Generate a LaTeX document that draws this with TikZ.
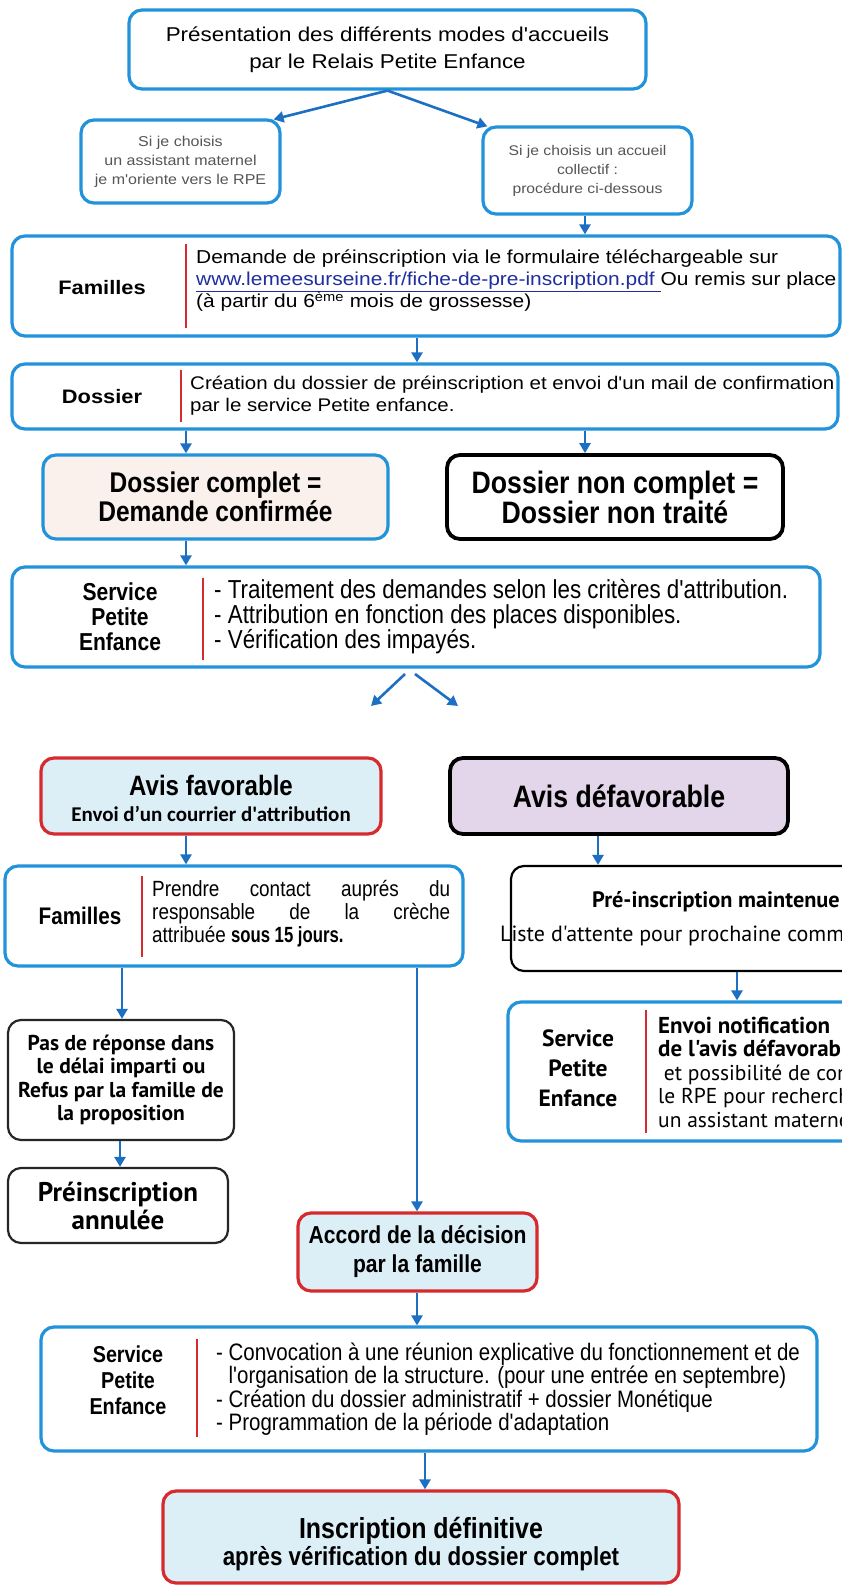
\documentclass[tikz,border=0pt]{standalone}
\usepackage{fontspec}
\setmainfont{Liberation Sans}
\newfontfamily\fwide[FakeStretch=1.12]{Liberation Sans}
\newfontfamily\fnar[FakeStretch=0.86]{Liberation Sans}
\newfontfamily\fnarb[FakeStretch=0.76]{Liberation Sans}
\newfontfamily\fpt{PT Sans}
\newfontfamily\fcal{Carlito}
\usetikzlibrary{arrows.meta}
\definecolor{bluec}{HTML}{2293DB}
\definecolor{arrc}{HTML}{1C6FC2}
\definecolor{redc}{HTML}{D62A2E}
\definecolor{lblue}{HTML}{DCEEF6}
\definecolor{beige}{HTML}{FBF1EC}
\definecolor{lav}{HTML}{E4D6EA}
\definecolor{urlc}{HTML}{1F2E9E}
\definecolor{greyt}{HTML}{555555}
\newcommand\fsz[2]{\fontsize{#1}{#2}\selectfont}
\begin{document}
\begin{tikzpicture}[x=1pt,y=-1pt,
  box/.style={rounded corners=13pt, inner sep=0pt, align=center},
  bbox/.style={box, draw=bluec, line width=3.2pt, fill=white},
  rbox/.style={box, draw=redc, line width=3.2pt, fill=lblue},
  kbox/.style={box, draw=black, line width=3.8pt, fill=white},
  gbox/.style={box, draw=black!85, line width=2.2pt, fill=white},
  arr/.style={draw=arrc, line width=2.6pt, -{Triangle[width=11pt,length=10pt]}},
  redl/.style={draw=redc, line width=2.6pt},
  lab/.style={inner sep=0pt, align=center},
  txt/.style={inner sep=0pt, align=left, anchor=west}]
\useasboundingbox (0,0) rectangle (842,1595);
\fill[white] (0,0) rectangle (842,1595);
\clip (0,0) rectangle (842,1595);

% top
\node[bbox, minimum width=517pt, minimum height=79pt, font=\fwide\fsz{20}{27}] (top) at (387.5,49.5)
  {Présentation des différents modes d'accueils\\par le Relais Petite Enfance};
\node[bbox, minimum width=199pt, minimum height=83pt, text=greyt, font=\fwide\fsz{14.3}{19}] (lsm) at (180.5,161.5)
  {Si je choisis\\un assistant maternel\\je m'oriente vers le RPE};
\node[bbox, minimum width=209pt, minimum height=87pt, text=greyt, font=\fwide\fsz{14}{19}] (rsm) at (587.5,170.5)
  {Si je choisis un accueil\\collectif :\\procédure ci-dessous};

% Familles
\node[bbox, minimum width=828pt, minimum height=100pt] (fam) at (426,286) {};
\node[lab, font=\fwide\bfseries\fsz{19.5}{22}] (faml) at (102,288) {Familles};
\draw[redl] (186,244) -- (186,328);
\node[txt, font=\fwide\fsz{18.7}{22}] (famt) at (196,281)
  {Demande de préinscription via le formulaire téléchargeable sur\\
   \textcolor{urlc}{\underline{www.lemeesurseine.fr/fiche-de-pre-inscription.pdf\ }}Ou remis sur place\\
   (à partir du 6\textsuperscript{ème} mois de grossesse)};

% Dossier
\node[bbox, minimum width=826pt, minimum height=65pt] (dos) at (425,396.5) {};
\node[lab, font=\fwide\bfseries\fsz{19.5}{22}] (dosl) at (102,397) {Dossier};
\draw[redl] (181,370) -- (181,422);
\node[txt, font=\fwide\fsz{18.3}{22}] (dost) at (190,396)
  {Création du dossier de préinscription et envoi d'un mail de confirmation\\par le service Petite enfance.};

% complet / non complet
\node[bbox, fill=beige, minimum width=345pt, minimum height=84pt, font=\fnar\bfseries\fsz{28.5}{29}] (cpl) at (215.5,497)
  {Dossier complet =\\Demande confirmée};
\node[kbox, minimum width=336pt, minimum height=84pt, font=\fnar\bfseries\fsz{31}{29}] (ncp) at (615,497)
  {Dossier non complet =\\Dossier non traité};

% Service 1
\node[bbox, minimum width=808pt, minimum height=100pt] (sv1) at (416,617) {};
\node[lab, font=\fnar\bfseries\fsz{24.5}{25}] (sv1l) at (120,617) {Service\\Petite\\Enfance};
\draw[redl] (203,578) -- (203,660);
\node[txt, font=\fnar\fsz{26}{25}] (sv1t) at (214,617)
  {- Traitement des demandes selon les critères d'attribution.\\
   - Attribution en fonction des places disponibles.\\
   - Vérification des impayés.};

\coordinate (xa1) at (405,674); \coordinate (xb1) at (371,706);
\coordinate (xa2) at (415,674); \coordinate (xb2) at (458,706);
\draw[arr] (xa1) -- (xb1);
\draw[arr] (xa2) -- (xb2);

% Avis
\node[rbox, minimum width=340pt, minimum height=76pt] (fav) at (211,796) {};
\node[lab, font=\fnar\bfseries\fsz{28}{30}] (favt) at (211,785) {Avis favorable};
\node[lab, font=\fcal\bfseries\fsz{21}{24}] (favs) at (211,814) {Envoi d’un courrier d'attribution};
\node[kbox, fill=lav, minimum width=338pt, minimum height=76pt, font=\fnar\bfseries\fsz{31}{30}] (def) at (619,796)
  {Avis défavorable};

% Familles 2
\node[bbox, minimum width=458pt, minimum height=100pt] (fm2) at (234,916) {};
\node[lab, font=\fnar\bfseries\fsz{24}{24}] (fm2l) at (80,916) {Familles};
\draw[redl] (142,876) -- (142,957);
\node[txt, font=\fnar\fsz{22}{23}] (fm2t) at (152,914)
  {\makebox[298pt][s]{Prendre contact auprés du}\\
   \makebox[298pt][s]{responsable de la crèche}\\
   attribuée {\fnarb\bfseries sous 15 jours.}};

% Pre-inscription maintenue
\node[box, draw=black, line width=2.2pt, fill=white, minimum width=500pt, minimum height=105pt] (pre) at (761,918.5) {};
\node[lab, font=\fpt\bfseries\fsz{22.3}{24}] (pret) at (716,902) {Pré-inscription maintenue};
\node[txt, font=\fpt\fsz{22}{24}] (prel) at (500,936) {Liste d'attente pour prochaine commission};

% Service 2
\node[bbox, minimum width=500pt, minimum height=139pt] (sv2) at (758,1071.5) {};
\node[lab, font=\fpt\bfseries\fsz{23.5}{30}] (sv2l) at (578,1068) {Service\\Petite\\Enfance};
\draw[redl] (646,1010) -- (646,1133);
\node[txt, font=\fpt\fsz{21.5}{23.5}] (sv2t) at (658,1072)
  {{\fsz{23}{23.5}\bfseries Envoi notification}\\{\fsz{23}{23.5}\bfseries de l'avis défavorable}\\\ et possibilité de contacter\\le RPE pour rechercher\\un assistant maternel};

% Pas de reponse / annulee
\node[gbox, minimum width=226pt, minimum height=120pt, font=\fpt\bfseries\fsz{21.5}{23.5}] (pas) at (121,1080)
  {Pas de réponse dans\\le délai imparti ou\\Refus par la famille de\\la proposition};
\node[gbox, minimum width=220pt, minimum height=75pt, font=\fpt\bfseries\fsz{27}{28}] (ann) at (118,1205.5)
  {Préinscription\\annulée};

% Accord
\node[rbox, minimum width=239pt, minimum height=78pt, font=\fnar\bfseries\fsz{24.5}{29}] (acc) at (417.5,1252)
  {Accord de la décision\\par la famille};

% Service 3
\node[bbox, minimum width=776pt, minimum height=124pt] (sv3) at (429,1389) {};
\node[lab, font=\fnar\bfseries\fsz{23}{26}] (sv3l) at (128,1380) {Service\\Petite\\Enfance};
\draw[redl] (197,1339) -- (197,1437);
\node[txt, font=\fnar\fsz{23.8}{23.5}] (sv3t) at (216,1389)
  {- Convocation à une réunion explicative du fonctionnement et de\\
   \phantom{- }l'organisation de la structure. (pour une entrée en septembre)\\
   - Création du dossier administratif + dossier Monétique\\
   - Programmation de la période d'adaptation};

% Inscription
\node[rbox, minimum width=516pt, minimum height=92pt] (ins) at (421,1537) {};
\node[lab, font=\fnar\bfseries\fsz{29}{30}] (inst) at (421,1531) {Inscription définitive};
\node[lab, font=\fnar\bfseries\fsz{26}{30}] (inss) at (421,1559) {après vérification du dossier complet};

% connectors
\draw[arr] (top.south) -- ([xshift=-8pt,yshift=-1pt]lsm.north east);
\draw[arr] (top.south) -- ([xshift=6pt,yshift=-1pt]rsm.north west);
\draw[arr] (585,0 |- rsm.south) -- (585,0 |- fam.north);
\draw[arr] (417,0 |- fam.south) -- (417,0 |- dos.north);
\draw[arr] (186,0 |- dos.south) -- (186,0 |- cpl.north);
\draw[arr] (585,0 |- dos.south) -- (585,0 |- ncp.north);
\draw[arr] (186,0 |- cpl.south) -- (186,0 |- sv1.north);
\draw[arr] (186,0 |- fav.south) -- (186,0 |- fm2.north);
\draw[arr] (598,0 |- def.south) -- (598,0 |- pre.north);
\draw[arr] (737,0 |- pre.south) -- (737,0 |- sv2.north);
\draw[arr] (122,0 |- fm2.south) -- (122,0 |- pas.north);
\draw[arr] (120,0 |- pas.south) -- (120,0 |- ann.north);
\draw[arr] (417,0 |- fm2.south) -- (417,0 |- acc.north);
\draw[arr] (417,0 |- acc.south) -- (417,0 |- sv3.north);
\draw[arr] (425,0 |- sv3.south) -- (425,0 |- ins.north);
\end{tikzpicture}
\end{document}
